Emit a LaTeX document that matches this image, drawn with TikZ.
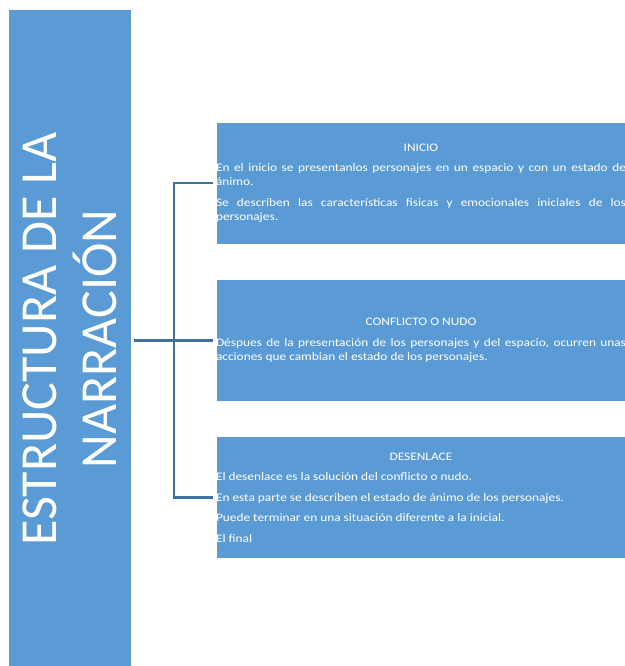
\documentclass[tikz,border=0pt]{standalone}
\usepackage{fontspec}
\setmainfont{Carlito}
\newfontfamily\boxfont[FakeStretch=1.16]{Carlito}
\definecolor{boxblue}{HTML}{5B9BD5}
\definecolor{linkblue}{HTML}{41719C}
\newcommand{\boxtext}[1]{\begin{minipage}{410pt}\boxfont\fontsize{11.5}{14}\selectfont\setlength{\parskip}{6.5pt}\setlength{\parindent}{0pt}#1\end{minipage}}
\begin{document}
\begin{tikzpicture}[x=1pt,y=-1pt,
  panel/.style={fill=boxblue, draw=white, line width=0.8pt, inner sep=0pt, minimum width=410pt, minimum height=122pt, text=white},
  titlebox/.style={fill=boxblue, draw=white, line width=0.8pt, inner sep=0pt, minimum width=660pt, minimum height=123pt, rotate=90, text=white, align=center, font=\fontsize{52}{60}\selectfont},
  conn/.style={draw=linkblue, line width=2.2pt}]
\useasboundingbox (0,0) rectangle (624,666);
\node[titlebox] (titulo) at (69.5,339) {ESTRUCTURA DE LA\\NARRACIÓN};
\node[panel] (inicio) at (421,183) {\boxtext{{\centering INICIO\par}
En el inicio se presentanlos personajes en un espacio y con un estado de\linebreak ánimo.\par
Se describen las características fisicas y emocionales iniciales de los\linebreak personajes.}};
\node[panel] (nudo) at (421,340.5) {\boxtext{{\centering CONFLICTO O NUDO\par}
Déspues de la presentación de los personajes y del espacio, ocurren unas\linebreak acciones que cambian el estado de los personajes.}};
\node[panel] (desenlace) at (421,497.5) {\boxtext{{\centering DESENLACE\par}
El desenlace es la solución del conflicto o nudo.\par
En esta parte se describen el estado de ánimo de los personajes.\par
Puede terminar en una situación diferente a la inicial.\par
El final}};
\coordinate (bar) at (174,0);
\draw[conn, shorten <=3pt, shorten >=3pt] (titulo.south |- nudo.west) -- (nudo.west);
\draw[conn, shorten <=3pt] (inicio.west) -- (bar |- inicio.west) |- ([xshift=-3pt]desenlace.west);
\end{tikzpicture}
\end{document}
